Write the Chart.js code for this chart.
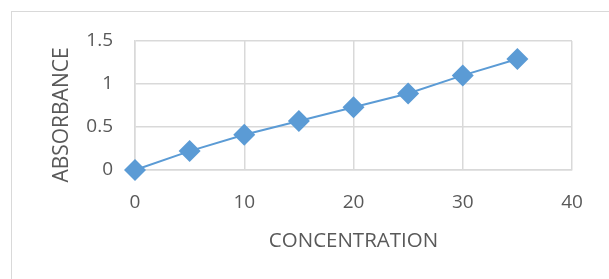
<!DOCTYPE html>
<html>
<head>
<meta charset="utf-8">
<script src="https://cdn.jsdelivr.net/npm/chart.js@4/dist/chart.umd.min.js"></script>
<style>
  html, body { margin: 0; padding: 0; background: #fff; overflow: hidden; }
  #frame { position: absolute; left: 11px; top: 11px; width: 640px; height: 320px; border: 1px solid #d9d9d9; }
  #wrap { position: absolute; left: 0; top: 0; width: 609px; height: 279px; }
</style>
</head>
<body>
<div id="frame"></div>
<div id="wrap"><canvas id="chart"></canvas></div>
<script>
var concentration = [0, 5, 10, 15, 20, 25, 30, 35];
var absorbance = [0, 0.22, 0.41, 0.57, 0.73, 0.89, 1.10, 1.29];
var xTicks = [0, 10, 20, 30, 40];
var yTicks = [0, 0.5, 1, 1.5];
var xTitle = 'CONCENTRATION';
var yTitle = 'ABSORBANCE';

var points = concentration.map(function (c, i) {
  return { x: c, y: absorbance[i] };
});

var gridColor = '#d9d9d9';
var textColor = '#595959';
var fontFamily = '"Open Sans", "Liberation Sans", sans-serif';

// y title sits a bit lower than the plot centre in the original, so draw it by hand
var yTitlePlugin = {
  id: 'yTitle',
  afterDraw: function (chart) {
    var ctx = chart.ctx;
    ctx.save();
    ctx.translate(62, 115);
    ctx.rotate(-Math.PI / 2);
    ctx.fillStyle = textColor;
    ctx.font = '21px ' + fontFamily;
    ctx.textAlign = 'center';
    ctx.textBaseline = 'middle';
    ctx.fillText(yTitle, 0, 0);
    ctx.restore();
  },
};

new Chart(document.getElementById('chart'), {
  type: 'scatter',
  data: {
    datasets: [{
      data: points,
      showLine: true,
      clip: false,
      borderColor: '#5b9bd5',
      borderWidth: 2,
      backgroundColor: '#5b9bd5',
      pointStyle: 'rectRot',
      pointRadius: 11,
      pointHoverRadius: 11,
      pointBorderWidth: 0,
    }],
  },
  options: {
    responsive: true,
    maintainAspectRatio: false,
    animation: false,
    layout: { padding: { left: 46, right: 37, top: 41, bottom: 22 } },
    plugins: { legend: { display: false }, tooltip: { enabled: false } },
    scales: {
      x: {
        type: 'linear',
        min: 0,
        max: 40,
        afterBuildTicks: function (axis) {
          axis.ticks = xTicks.map(function (v) { return { value: v }; });
        },
        afterFit: function (axis) { axis.height = 87; },
        grid: { color: gridColor, lineWidth: 1.5, drawTicks: false },
        border: { color: gridColor, width: 1.5 },
        ticks: { color: textColor, padding: 21, font: { family: fontFamily, size: 19 }, maxRotation: 0 },
        title: { display: true, text: xTitle, color: textColor, font: { family: fontFamily, size: 20.5 } },
      },
      y: {
        type: 'linear',
        min: 0,
        max: 1.5,
        afterBuildTicks: function (axis) {
          axis.ticks = yTicks.map(function (v) { return { value: v }; });
        },
        afterFit: function (axis) { axis.width = 89; },
        grid: { color: gridColor, lineWidth: 1.5, drawTicks: false },
        border: { color: gridColor, width: 1.5 },
        ticks: {
          color: textColor,
          padding: 22,
          font: { family: fontFamily, size: 19 },
          callback: function (value) { return String(value); },
        },
      },
    },
  },
  plugins: [yTitlePlugin],
});
</script>
</body>
</html>
